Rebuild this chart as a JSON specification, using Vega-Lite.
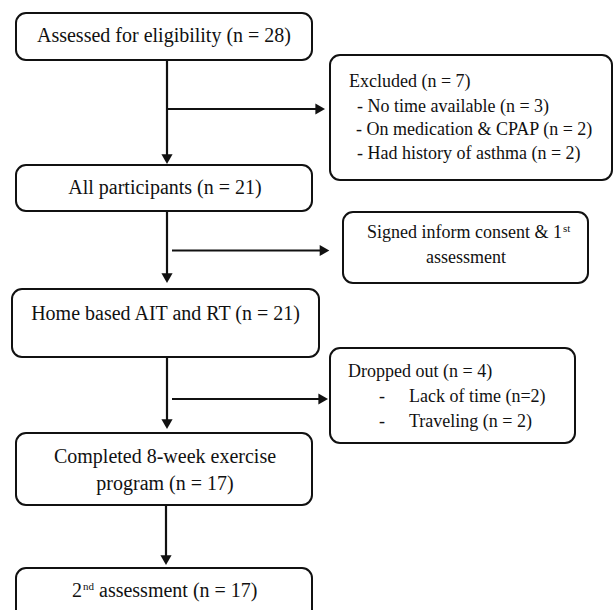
{
  "$schema": "https://vega.github.io/schema/vega-lite/v6.json",
  "width": 614,
  "height": 610,
  "padding": 0,
  "autosize": {"type": "none"},
  "background": "white",
  "config": {"view": {"stroke": null}},
  "datasets": {
    "boxes": [
      {"id": "assessed", "x1": 16, "x2": 312, "y1": 13, "y2": 60},
      {"id": "all", "x1": 16, "x2": 312, "y1": 165, "y2": 211},
      {"id": "home", "x1": 12, "x2": 319, "y1": 289, "y2": 357},
      {"id": "completed", "x1": 16, "x2": 312, "y1": 433, "y2": 505},
      {"id": "second", "x1": 16, "x2": 312, "y1": 568, "y2": 630},
      {"id": "excluded", "x1": 330, "x2": 612, "y1": 55, "y2": 180},
      {"id": "signed", "x1": 343, "x2": 588, "y1": 212, "y2": 283},
      {"id": "dropped", "x1": 330, "x2": 575, "y1": 348, "y2": 443}
    ],
    "lines": [
      {"x1": 167, "x2": 167, "y1": 60, "y2": 160},
      {"x1": 167, "x2": 321, "y1": 109, "y2": 109},
      {"x1": 167, "x2": 167, "y1": 211, "y2": 279},
      {"x1": 172, "x2": 325, "y1": 250.5, "y2": 250.5},
      {"x1": 167, "x2": 167, "y1": 357, "y2": 425},
      {"x1": 172, "x2": 324, "y1": 399, "y2": 399},
      {"x1": 166, "x2": 166, "y1": 505, "y2": 561}
    ],
    "heads": [
      {"x": 167, "y": 159.2, "dir": "down"},
      {"x": 320.2, "y": 109, "dir": "right"},
      {"x": 167, "y": 278.2, "dir": "down"},
      {"x": 324.5, "y": 250.5, "dir": "right"},
      {"x": 167, "y": 424.2, "dir": "down"},
      {"x": 323.2, "y": 399, "dir": "right"},
      {"x": 166, "y": 560.2, "dir": "down"}
    ],
    "labels": [
      {"text": "Assessed for eligibility (n = 28)", "x": 164, "y": 42, "group": "main"},
      {"text": "All participants (n = 21)", "x": 165, "y": 194, "group": "main"},
      {"text": "Home based AIT and RT (n = 21)", "x": 165.5, "y": 320, "group": "main"},
      {"text": "Completed 8-week exercise", "x": 165, "y": 463, "group": "main"},
      {"text": "program (n = 17)", "x": 165, "y": 490, "group": "main"},
      {"text": "2", "x": 72, "y": 597, "group": "mainLeft"},
      {"text": "assessment (n = 17)", "x": 99, "y": 597, "group": "mainLeft"},
      {"text": "nd", "x": 83, "y": 590, "group": "sup"},
      {"text": "Excluded (n = 7)", "x": 349, "y": 87, "group": "sideLeft"},
      {"text": "- No time available (n = 3)", "x": 357, "y": 111.5, "group": "sideLeft"},
      {"text": "- On medication & CPAP (n = 2)", "x": 356, "y": 135, "group": "sideLeft"},
      {"text": "- Had history of asthma (n = 2)", "x": 357, "y": 158.5, "group": "sideLeft"},
      {"text": "Signed inform consent & 1", "x": 562, "y": 238, "group": "sideRight"},
      {"text": "st", "x": 563, "y": 232, "group": "sup"},
      {"text": "assessment", "x": 466, "y": 263, "group": "sideCenter"},
      {"text": "Dropped out (n = 4)", "x": 348, "y": 377, "group": "sideLeft"},
      {"text": "-", "x": 379, "y": 402, "group": "sideLeft"},
      {"text": "Lack of time (n=2)", "x": 409, "y": 402, "group": "sideLeft"},
      {"text": "-", "x": 379, "y": 427, "group": "sideLeft"},
      {"text": "Traveling (n = 2)", "x": 409, "y": 427, "group": "sideLeft"}
    ]
  },
  "layer": [
    {
      "data": {"name": "boxes"},
      "mark": {"type": "rect", "cornerRadius": 10, "fill": "white", "stroke": "#111", "strokeWidth": 2, "clip": true},
      "encoding": {
        "x": {"field": "x1", "type": "quantitative", "scale": {"domain": [0, 614], "nice": false, "zero": false}, "axis": null},
        "x2": {"field": "x2"},
        "y": {"field": "y1", "type": "quantitative", "scale": {"domain": [0, 610], "reverse": true, "nice": false, "zero": false}, "axis": null},
        "y2": {"field": "y2"}
      }
    },
    {
      "data": {"name": "lines"},
      "mark": {"type": "rule", "color": "#111", "strokeWidth": 2.2},
      "encoding": {
        "x": {"field": "x1", "type": "quantitative", "scale": {"domain": [0, 614], "nice": false, "zero": false}, "axis": null},
        "x2": {"field": "x2"},
        "y": {"field": "y1", "type": "quantitative", "scale": {"domain": [0, 610], "reverse": true, "nice": false, "zero": false}, "axis": null},
        "y2": {"field": "y2"}
      }
    },
    {
      "data": {"name": "heads"},
      "mark": {"type": "point", "filled": true, "color": "#111", "opacity": 1, "size": 125},
      "encoding": {
        "x": {"field": "x", "type": "quantitative", "scale": {"domain": [0, 614], "nice": false, "zero": false}, "axis": null},
        "y": {"field": "y", "type": "quantitative", "scale": {"domain": [0, 610], "reverse": true, "nice": false, "zero": false}, "axis": null},
        "shape": {"field": "dir", "type": "nominal", "scale": {"domain": ["down", "right"], "range": ["triangle-down", "triangle-right"]}, "legend": null}
      }
    },
    {
      "data": {"name": "labels"},
      "transform": [{"filter": "datum.group === 'main'"}],
      "mark": {"type": "text", "font": "Liberation Serif", "fontSize": 20, "align": "center", "baseline": "alphabetic", "color": "#111"},
      "encoding": {
        "x": {"field": "x", "type": "quantitative", "scale": {"domain": [0, 614], "nice": false, "zero": false}, "axis": null},
        "y": {"field": "y", "type": "quantitative", "scale": {"domain": [0, 610], "reverse": true, "nice": false, "zero": false}, "axis": null},
        "text": {"field": "text"}
      }
    },
    {
      "data": {"name": "labels"},
      "transform": [{"filter": "datum.group === 'mainLeft'"}],
      "mark": {"type": "text", "font": "Liberation Serif", "fontSize": 20, "align": "left", "baseline": "alphabetic", "color": "#111"},
      "encoding": {
        "x": {"field": "x", "type": "quantitative", "scale": {"domain": [0, 614], "nice": false, "zero": false}, "axis": null},
        "y": {"field": "y", "type": "quantitative", "scale": {"domain": [0, 610], "reverse": true, "nice": false, "zero": false}, "axis": null},
        "text": {"field": "text"}
      }
    },
    {
      "data": {"name": "labels"},
      "transform": [{"filter": "datum.group === 'sideLeft'"}],
      "mark": {"type": "text", "font": "Liberation Serif", "fontSize": 18, "align": "left", "baseline": "alphabetic", "color": "#111"},
      "encoding": {
        "x": {"field": "x", "type": "quantitative", "scale": {"domain": [0, 614], "nice": false, "zero": false}, "axis": null},
        "y": {"field": "y", "type": "quantitative", "scale": {"domain": [0, 610], "reverse": true, "nice": false, "zero": false}, "axis": null},
        "text": {"field": "text"}
      }
    },
    {
      "data": {"name": "labels"},
      "transform": [{"filter": "datum.group === 'sideRight'"}],
      "mark": {"type": "text", "font": "Liberation Serif", "fontSize": 18, "align": "right", "baseline": "alphabetic", "color": "#111"},
      "encoding": {
        "x": {"field": "x", "type": "quantitative", "scale": {"domain": [0, 614], "nice": false, "zero": false}, "axis": null},
        "y": {"field": "y", "type": "quantitative", "scale": {"domain": [0, 610], "reverse": true, "nice": false, "zero": false}, "axis": null},
        "text": {"field": "text"}
      }
    },
    {
      "data": {"name": "labels"},
      "transform": [{"filter": "datum.group === 'sideCenter'"}],
      "mark": {"type": "text", "font": "Liberation Serif", "fontSize": 18, "align": "center", "baseline": "alphabetic", "color": "#111"},
      "encoding": {
        "x": {"field": "x", "type": "quantitative", "scale": {"domain": [0, 614], "nice": false, "zero": false}, "axis": null},
        "y": {"field": "y", "type": "quantitative", "scale": {"domain": [0, 610], "reverse": true, "nice": false, "zero": false}, "axis": null},
        "text": {"field": "text"}
      }
    },
    {
      "data": {"name": "labels"},
      "transform": [{"filter": "datum.group === 'sup'"}],
      "mark": {"type": "text", "font": "Liberation Serif", "fontSize": 11, "align": "left", "baseline": "alphabetic", "color": "#111"},
      "encoding": {
        "x": {"field": "x", "type": "quantitative", "scale": {"domain": [0, 614], "nice": false, "zero": false}, "axis": null},
        "y": {"field": "y", "type": "quantitative", "scale": {"domain": [0, 610], "reverse": true, "nice": false, "zero": false}, "axis": null},
        "text": {"field": "text"}
      }
    }
  ]
}
